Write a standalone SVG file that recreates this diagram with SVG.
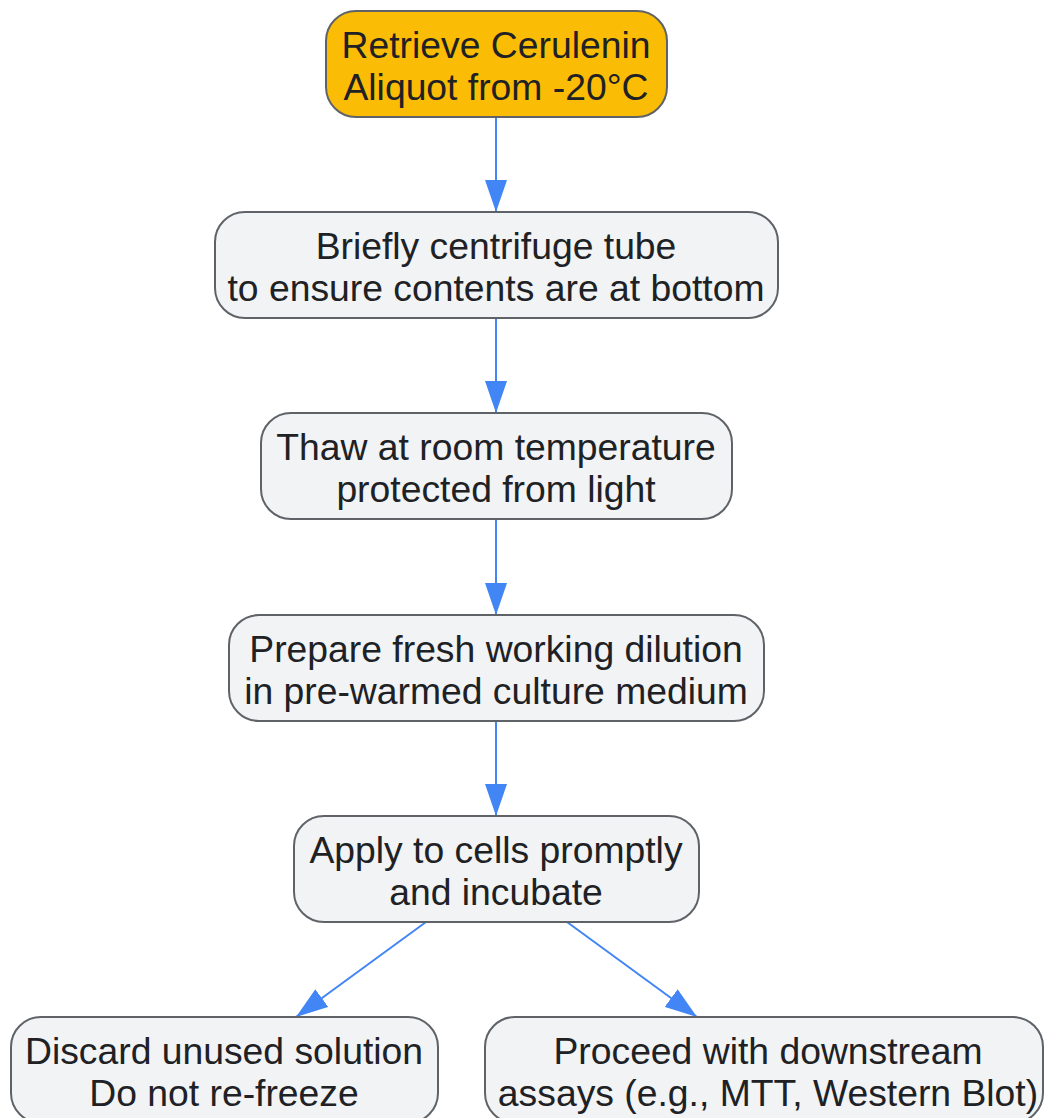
<svg xmlns="http://www.w3.org/2000/svg" width="1045" height="1118" viewBox="0 0 1045 1118">
<style>
.node rect{fill:#F1F3F4;stroke:#5F6368;stroke-width:2}
.node.start rect{fill:#FBBC05}
.node text{font-family:"Liberation Sans",Arial,sans-serif;font-size:37.3px;fill:#202124;text-anchor:middle}
.edges line{stroke:#4285F4;stroke-width:2;fill:none}
</style>
<defs>
<marker id="ah" markerUnits="userSpaceOnUse" markerWidth="32" markerHeight="22" refX="32" refY="11" orient="auto" viewBox="0 0 32 22">
<path d="M0,0 L32,11 L0,22 z" fill="#4285F4"/>
</marker>
</defs>
<rect width="1045" height="1118" fill="#FFFFFF"/>
<g class="edges">
<line x1="496" y1="117" x2="496" y2="212" marker-end="url(#ah)"/>
<line x1="496" y1="318" x2="496" y2="413" marker-end="url(#ah)"/>
<line x1="496" y1="519" x2="496" y2="615" marker-end="url(#ah)"/>
<line x1="496" y1="721" x2="496" y2="816" marker-end="url(#ah)"/>
<line x1="426" y1="922" x2="296" y2="1017" marker-end="url(#ah)"/>
<line x1="567" y1="922" x2="697" y2="1017" marker-end="url(#ah)"/>
</g>
<g id="n1" class="node start">
<rect x="326" y="11" width="341" height="106" rx="30"/>
<text x="496" y="58">Retrieve Cerulenin</text>
<text x="496" y="100">Aliquot from -20°C</text>
</g>
<g id="n2" class="node">
<rect x="215" y="212" width="563" height="106" rx="30"/>
<text x="496" y="259">Briefly centrifuge tube</text>
<text x="496" y="301">to ensure contents are at bottom</text>
</g>
<g id="n3" class="node">
<rect x="261" y="413" width="471" height="106" rx="30"/>
<text x="496" y="460">Thaw at room temperature</text>
<text x="496" y="502">protected from light</text>
</g>
<g id="n4" class="node">
<rect x="229" y="615" width="535" height="106" rx="30"/>
<text x="496" y="662">Prepare fresh working dilution</text>
<text x="496" y="704">in pre-warmed culture medium</text>
</g>
<g id="n5" class="node">
<rect x="294" y="816" width="405" height="106" rx="30"/>
<text x="496" y="863">Apply to cells promptly</text>
<text x="496" y="905">and incubate</text>
</g>
<g id="n6" class="node">
<rect x="11" y="1017" width="427" height="106" rx="30"/>
<text x="224" y="1064">Discard unused solution</text>
<text x="224" y="1106">Do not re-freeze</text>
</g>
<g id="n7" class="node">
<rect x="485" y="1017" width="558" height="106" rx="30"/>
<text x="768" y="1064">Proceed with downstream</text>
<text x="768" y="1106">assays (e.g., MTT, Western Blot)</text>
</g>
</svg>
